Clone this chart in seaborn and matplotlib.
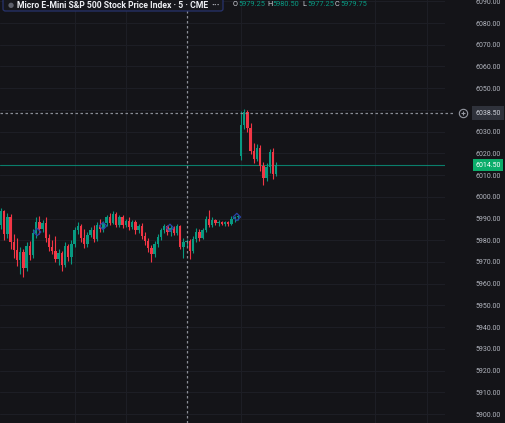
import numpy as np
import pandas as pd
import matplotlib
matplotlib.use("Agg")
import matplotlib.pyplot as plt
import matplotlib.transforms as mtransforms
from matplotlib.patches import FancyBboxPatch
import seaborn as sns

# 5-minute candles (index = bar number)
opens = [5987.0, 5993.5, 5983.0, 5990.5, 5979.0, 5975.5, 5971.0, 5974.5, 5967.0, 5977.5,
         5973.0, 5983.5, 5988.5, 5985.0, 5988.0, 5981.0, 5977.0, 5975.0, 5971.5, 5974.0,
         5968.5, 5977.5, 5972.5, 5978.5, 5984.5, 5986.5, 5981.0, 5978.5, 5982.5, 5984.5,
         5980.5, 5987.0, 5985.0, 5988.0, 5990.5, 5988.0, 5992.0, 5987.0, 5990.5, 5987.0,
         5989.0, 5986.0, 5988.5, 5984.5, 5986.5, 5982.0, 5979.5, 5976.5, 5973.5, 5978.5,
         5981.5, 5984.5, 5986.5, 5984.0, 5985.5, 5983.5, 5986.5, 5977.0, 5979.25, 5979.75,
         5975.0, 5980.5, 5984.0, 5981.0, 5984.5, 5990.0, 5987.0, 5989.5, 5988.0, 5988.5,
         5987.5, 5988.5, 5987.5, 5990.0, 5990.5,
         6019.0, 6033.0, 6039.0, 6031.5, 6021.0, 6017.5, 6022.5, 6014.0, 6008.5, 6013.5,
         6020.5, 6010.5]
highs = [5995.0, 5994.0, 5992.5, 5992.0, 5983.0, 5981.0, 5977.0, 5976.0, 5979.0, 5979.5,
         5985.0, 5990.5, 5991.0, 5989.5, 5990.5, 5983.0, 5980.0, 5982.0, 5976.0, 5975.0,
         5979.0, 5978.5, 5980.0, 5986.0, 5988.5, 5987.5, 5985.0, 5984.0, 5986.0, 5987.0,
         5988.5, 5990.0, 5989.0, 5991.5, 5992.5, 5993.5, 5993.0, 5991.5, 5991.5, 5990.0,
         5990.5, 5989.5, 5989.5, 5987.5, 5988.0, 5984.0, 5981.0, 5978.0, 5979.5, 5983.0,
         5985.5, 5987.5, 5987.0, 5987.0, 5986.5, 5987.5, 5987.0, 5981.0, 5980.5, 5980.5,
         5982.0, 5985.5, 5985.0, 5985.5, 5991.0, 5994.0, 5990.5, 5990.0, 5989.5, 5989.0,
         5989.0, 5989.0, 5991.0, 5991.0, 5991.5,
         6039.5, 6040.5, 6040.0, 6034.0, 6025.0, 6024.5, 6024.0, 6016.0, 6015.5, 6022.0,
         6022.5, 6016.0]
lows = [5985.0, 5980.0, 5981.0, 5976.0, 5972.0, 5968.0, 5964.5, 5963.0, 5966.0, 5971.0,
        5972.0, 5981.0, 5983.0, 5984.0, 5979.0, 5975.0, 5973.5, 5970.0, 5968.5, 5966.0,
        5967.5, 5970.5, 5969.0, 5977.0, 5983.0, 5979.0, 5976.5, 5977.0, 5981.5, 5979.0,
        5979.5, 5984.0, 5984.0, 5986.5, 5987.0, 5987.5, 5986.0, 5986.0, 5985.5, 5986.0,
        5984.5, 5985.0, 5983.0, 5983.5, 5980.5, 5978.0, 5974.5, 5970.0, 5972.5, 5977.0,
        5980.0, 5983.5, 5982.5, 5982.0, 5982.5, 5982.5, 5976.0, 5972.0, 5977.25, 5971.5,
        5974.0, 5979.0, 5979.5, 5980.5, 5984.0, 5986.0, 5986.0, 5987.0, 5986.5, 5987.0,
        5986.5, 5986.5, 5987.0, 5988.5, 5989.5,
        6017.0, 6031.0, 6030.0, 6019.5, 6015.5, 6016.5, 6012.0, 6005.5, 6007.5, 6011.0,
        6008.0, 6009.5]
closes = [5993.5, 5983.0, 5990.5, 5979.0, 5975.5, 5971.0, 5974.5, 5967.0, 5977.5, 5973.0,
          5983.5, 5988.5, 5985.0, 5988.0, 5981.0, 5977.0, 5975.0, 5971.5, 5974.0, 5968.5,
          5977.5, 5972.5, 5978.5, 5984.5, 5986.5, 5981.0, 5978.5, 5982.5, 5984.5, 5980.5,
          5987.0, 5985.0, 5988.0, 5990.5, 5988.0, 5992.0, 5987.0, 5990.5, 5987.0, 5989.0,
          5986.0, 5988.5, 5984.5, 5986.5, 5982.0, 5979.5, 5976.5, 5973.5, 5978.5, 5981.5,
          5984.5, 5986.5, 5984.0, 5985.5, 5983.5, 5986.5, 5977.0, 5979.25, 5979.75, 5975.0,
          5980.5, 5984.0, 5981.0, 5984.5, 5990.0, 5987.0, 5989.5, 5988.0, 5988.5, 5987.5,
          5988.5, 5987.5, 5990.0, 5990.5, 5991.0,
          6033.0, 6039.0, 6031.5, 6021.0, 6017.5, 6022.5, 6014.0, 6008.5, 6013.5, 6020.5,
          6010.5, 6014.5]

# indicator markers (blue)
marker_idx = [11.3, 31.9, 52.8, 73.7]
marker_price = [5983.8, 5986.6, 5985.7, 5990.7]

price_ticks = list(range(5900, 6091, 10))
hidden_tick = 6040  # covered by the crosshair price label
last_price = 6014.50
cross_price = 6038.50
cross_bar = 58
title = "Micro E-Mini S&P 500 Stock Price Index · 5 · CME"
ohlc_text = [("O", "5979.25"), ("H", "5980.50"), ("L", "5977.25"), ("C", "5979.75")]

BG = "#141418"
GRID = "#1d1e25"
UP = "#089981"
DOWN = "#f23645"
TXT = "#b2b5be"

df = pd.DataFrame({"open": opens, "high": highs, "low": lows, "close": closes})
df["bar"] = np.arange(len(df))
df["up"] = df["close"] >= df["open"]
df["color"] = np.where(df["up"], UP, DOWN)

sns.set_theme(style="dark", rc={"axes.facecolor": BG, "figure.facecolor": BG})
plt.rcParams["font.family"] = ["Roboto", "DejaVu Sans"]

fig = plt.figure(figsize=(5.05, 4.23), dpi=100)
ax = fig.add_axes([0, 0, 445 / 505, 1])
ax.set_facecolor(BG)

for p in price_ticks:
    ax.axhline(p, color=GRID, lw=0.8, zorder=0)
for b in [23, 39, 75, 117, 133]:
    ax.axvline(b, color=GRID, lw=0.8, zorder=0)

# candles
ax.vlines(df["bar"], df["low"], df["high"], colors=df["color"], lw=0.8, zorder=2)
body_low = df[["open", "close"]].min(axis=1)
body_h = (df["close"] - df["open"]).abs().clip(lower=0.4)
ax.bar(df["bar"], body_h, bottom=body_low, width=0.7, color=df["color"], linewidth=0, zorder=3)

sns.scatterplot(x=marker_idx, y=marker_price, ax=ax, marker="D", s=14,
                facecolor="none", edgecolor="#2a44a8", linewidth=0.9, zorder=4)

# last price line
ax.axhline(last_price, color=UP, lw=0.8, alpha=0.8, zorder=1)

# crosshair
ax.axvline(cross_bar, color="#8a8d96", lw=0.9, ls=(0, (2, 2)), zorder=5)
trans = mtransforms.blended_transform_factory(ax.transAxes, ax.transData)
ax.plot([0, 455 / 445], [cross_price, cross_price], transform=trans, color="#8a8d96",
        lw=0.9, ls=(0, (2, 2)), clip_on=False, zorder=5)
ax.plot([463 / 445], [cross_price], transform=trans, marker="o", ms=6, mfc="none",
        mec="#9598a1", mew=0.8, clip_on=False)
ax.plot([463 / 445], [cross_price], transform=trans, marker="+", ms=3.5,
        color="#9598a1", mew=0.8, clip_on=False)

ax.set_xlim(-1 / 3.2, -1 / 3.2 + 445 / 3.2)
ax.set_ylim(5895.86, 6090.61)
ax.set_xticks([])
ax.yaxis.tick_right()
ax.set_yticks(price_ticks)
ax.set_yticklabels(["" if p == hidden_tick else f"{p:.2f}" for p in price_ticks])
ax.tick_params(axis="y", length=0, pad=21.6, labelsize=5, labelcolor=TXT)
for s in ax.spines.values():
    s.set_visible(False)

# price labels on the scale
ax.text(475 / 445, last_price, f"{last_price:.2f}", transform=trans, fontsize=5,
        color="white", va="center", ha="left", clip_on=False, zorder=6,
        bbox=dict(boxstyle="square,pad=0.35", fc="#0bad6a", ec="none"))
ax.text(475 / 445, cross_price, f"{cross_price:.2f}", transform=trans, fontsize=5,
        color="#d1d4dc", va="center", ha="left", clip_on=False, zorder=6,
        bbox=dict(boxstyle="square,pad=0.5", fc="#2f323b", ec="none"))

# title box
fig.patches.append(FancyBboxPatch((3 / 505, 1 - 11 / 423), 220 / 505, 14 / 423,
                                  boxstyle="round,pad=0,rounding_size=0.005",
                                  transform=fig.transFigure, fc="#17181d", ec="#27336e", lw=0.9))
fig.text(11 / 505, 1 - 5 / 423, "●", fontsize=5, color="#5d606b", ha="center", va="center")
fig.text(17 / 505, 1 - 5 / 423, title, fontsize=6.2, color="#eceef2", ha="left",
         va="center", fontweight="semibold")
fig.text(211 / 505, 1 - 5 / 423, "···", fontsize=7, color="#b0b3bb", ha="left", va="center",
         fontweight="bold")
xs = [233, 267, 302, 335]
for (lab, val), x in zip(ohlc_text, xs):
    fig.text(x / 505, 1 - 5 / 423, lab, fontsize=5.3, color="#d1d4dc", ha="left", va="center")
    fig.text((x + 5.5) / 505, 1 - 5 / 423, val, fontsize=5.3, color=UP, ha="left", va="center")

fig.savefig("out.png", dpi=100, facecolor=BG)
